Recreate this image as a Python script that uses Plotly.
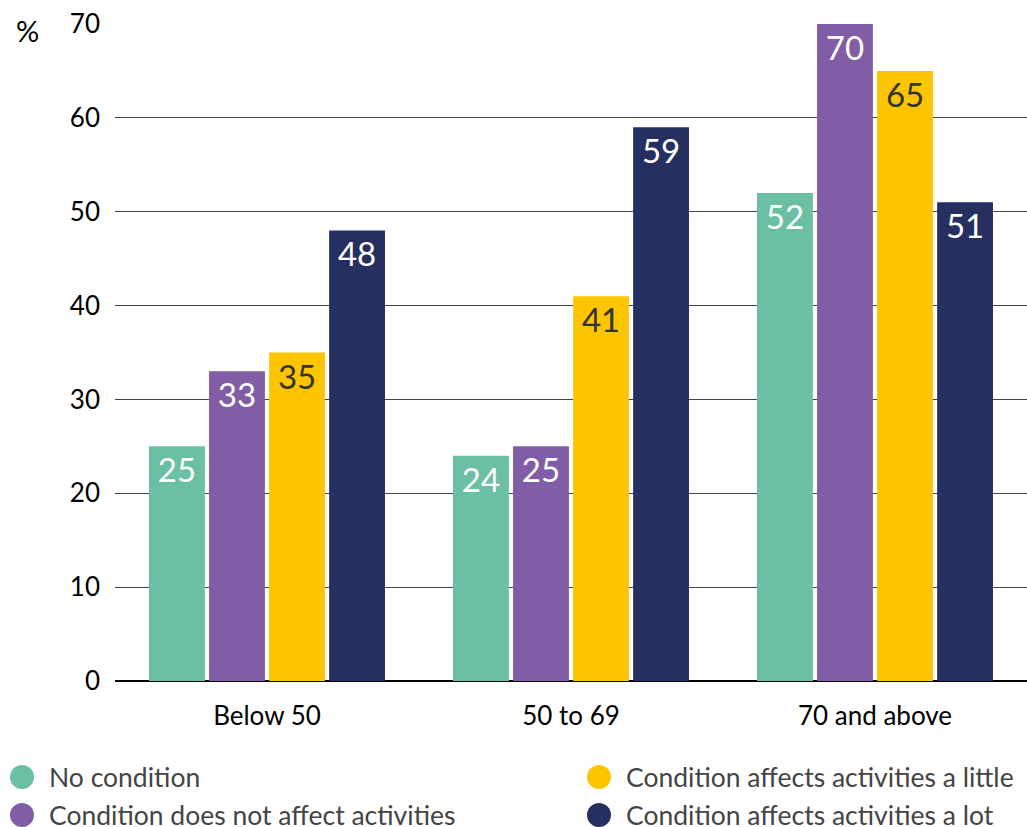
import plotly.graph_objects as go

# Age groups and share (%) per health-condition group
categories = ["Below 50", "50 to 69", "70 and above"]
series_names = [
    "No condition",
    "Condition does not affect activities",
    "Condition affects activities a little",
    "Condition affects activities a lot",
]
no_condition = [25, 24, 52]
not_affect = [33, 25, 70]
affect_little = [35, 41, 65]
affect_lot = [48, 59, 51]
y_ticks = [0, 10, 20, 30, 40, 50, 60, 70]

values = [no_condition, not_affect, affect_little, affect_lot]
colors = ["#6BBFA3", "#805DA5", "#FDC500", "#253060"]
label_colors = ["white", "white", "#333333", "white"]

FONT = "Lato"

fig = go.Figure()
for name, vals, col, lcol in zip(series_names, values, colors, label_colors):
    fig.add_trace(go.Bar(
        x=categories, y=vals, name=name,
        marker=dict(color=col, line=dict(width=0)),
        text=[str(v) for v in vals],
        textposition="inside", insidetextanchor="end", textangle=0,
        constraintext="none",
        textfont=dict(family=FONT, size=33, color=lcol),
        showlegend=False,
    ))

# Legend drawn as circle markers + labels in two columns
plot_l, plot_w, plot_b, plot_h = 115, 912, 681, 657
def px_x(px):
    return (px - plot_l) / plot_w
def px_y(py):
    return (plot_b - py) / plot_h

legend_pos = [(22, 777), (22, 815), (599, 777), (599, 815)]
for name, col, (cx, cy) in zip(series_names, colors, legend_pos):
    fig.add_shape(type="circle", xref="paper", yref="paper",
                  xsizemode="pixel", ysizemode="pixel",
                  xanchor=px_x(cx), yanchor=px_y(cy),
                  x0=-12, x1=12, y0=-12, y1=12,
                  fillcolor=col, line=dict(width=0))
    fig.add_annotation(xref="paper", yref="paper", x=px_x(cx + 25), y=px_y(cy),
                       xanchor="left", yanchor="middle", showarrow=False,
                       text=name, font=dict(family=FONT, size=26.5, color="#444444"))

fig.add_annotation(xref="paper", yref="paper", x=px_x(27), y=px_y(30),
                   xanchor="center", yanchor="middle", showarrow=False,
                   text="%", font=dict(family=FONT, size=29, color="black"))

fig.update_layout(
    width=1027, height=827,
    margin=dict(l=plot_l, r=0, t=24, b=827 - plot_b),
    paper_bgcolor="white", plot_bgcolor="white",
    barmode="group", bargap=0.21, bargroupgap=0.07,
    font=dict(family=FONT, color="black"),
    showlegend=False,
)
fig.update_yaxes(range=[0, 70], tickvals=y_ticks, showgrid=True,
                 gridcolor="#444444", gridwidth=1,
                 zeroline=True, zerolinecolor="black", zerolinewidth=1.5,
                 ticklabelstandoff=14,
                 tickfont=dict(family=FONT, size=26, color="black"))
fig.update_xaxes(showgrid=False, ticklabelstandoff=17, showline=False,
                 tickfont=dict(family=FONT, size=26, color="black"))

fig.write_html("out.html")
